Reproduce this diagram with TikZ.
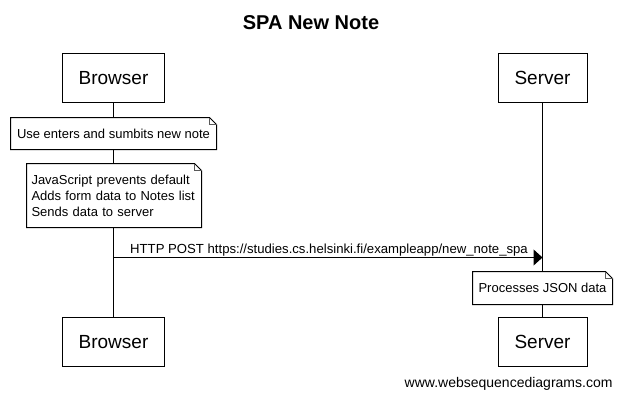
\documentclass[tikz,border=0pt]{standalone}
\usepackage{fontspec}
\setmainfont{Liberation Sans}
\usetikzlibrary{arrows.meta,backgrounds}
\newcommand\foldnote[1]{%
  \begin{scope}[on background layer, line width=1pt]
    \draw[line width=1pt, fill=white] (#1.north west) -- ([xshift=-7pt]#1.north east)
      -- ([yshift=-7pt]#1.north east) -- (#1.south east) -- (#1.south west) -- cycle;
    \draw[foldline] ([xshift=-7pt]#1.north east) |- ([yshift=-7pt]#1.north east);
  \end{scope}}
\begin{document}
\begin{tikzpicture}[x=1pt,y=-1pt,line width=1pt,
  actor/.style={draw, fill=white, minimum height=49pt, inner sep=0pt,
    font=\fontsize{19}{22}\selectfont},
  notebox/.style={inner sep=0pt, outer sep=0pt, anchor=north west,
    font=\fontsize{13}{16}\selectfont},
  foldline/.style={line width=0.8pt, draw=black!65},
  msg/.style={-{Triangle[length=9pt,width=16pt]}},
  msglabel/.style={inner sep=0pt, anchor=base, font=\fontsize{13.15}{16}\selectfont},
  titlestyle/.style={inner sep=0pt, anchor=base, font=\fontsize{20}{24}\selectfont\bfseries},
  footer/.style={inner sep=0pt, anchor=base east, font=\fontsize{14}{17}\selectfont}]
\useasboundingbox (0,0) rectangle (622,400);

\node[titlestyle] (title) at (311,29.5) {SPA New Note};

\node[actor, minimum width=102pt] (bt) at (113.5,78) {Browser};
\node[actor, minimum width=89pt] (st) at (542.5,78) {Server};
\node[actor, minimum width=102pt] (bb) at (113.5,342) {Browser};
\node[actor, minimum width=89pt] (sb) at (542.5,342) {Server};

\node[notebox, minimum width=206pt, minimum height=32pt] (n1) at (10.5,117.5)
  {Use enters and sumbits new note};
\node[notebox, minimum width=175pt, minimum height=64pt, text width=165pt,
  inner xsep=5pt, align=left] (n2) at (26.5,163.5)
  {JavaScript prevents default\\Adds form data to Notes list\\Sends data to server};
\node[notebox, minimum width=140pt, minimum height=33pt] (n3) at (472.5,271.5)
  {Processes JSON data};

\begin{scope}[on background layer, line width=1pt]
  \fill[white] (0,0) rectangle (622,400);
  \draw[line width=1pt] (bt.south) -- (bb.north);
  \draw[line width=1pt] (st.south) -- (sb.north);
\end{scope}
\foldnote{n1}
\foldnote{n2}
\foldnote{n3}

\coordinate (p1) at (bt.south |- 0,257.5);
\coordinate (p2) at (st.south |- 0,257.5);
\draw[msg] (p1) -- (p2);
\node[msglabel] (m1) at (329,253)
  {HTTP POST https://studies.cs.helsinki.fi/exampleapp/new\_note\_spa};

\node[footer] (wsd) at (613,387) {www.websequencediagrams.com};
\end{tikzpicture}
\end{document}
